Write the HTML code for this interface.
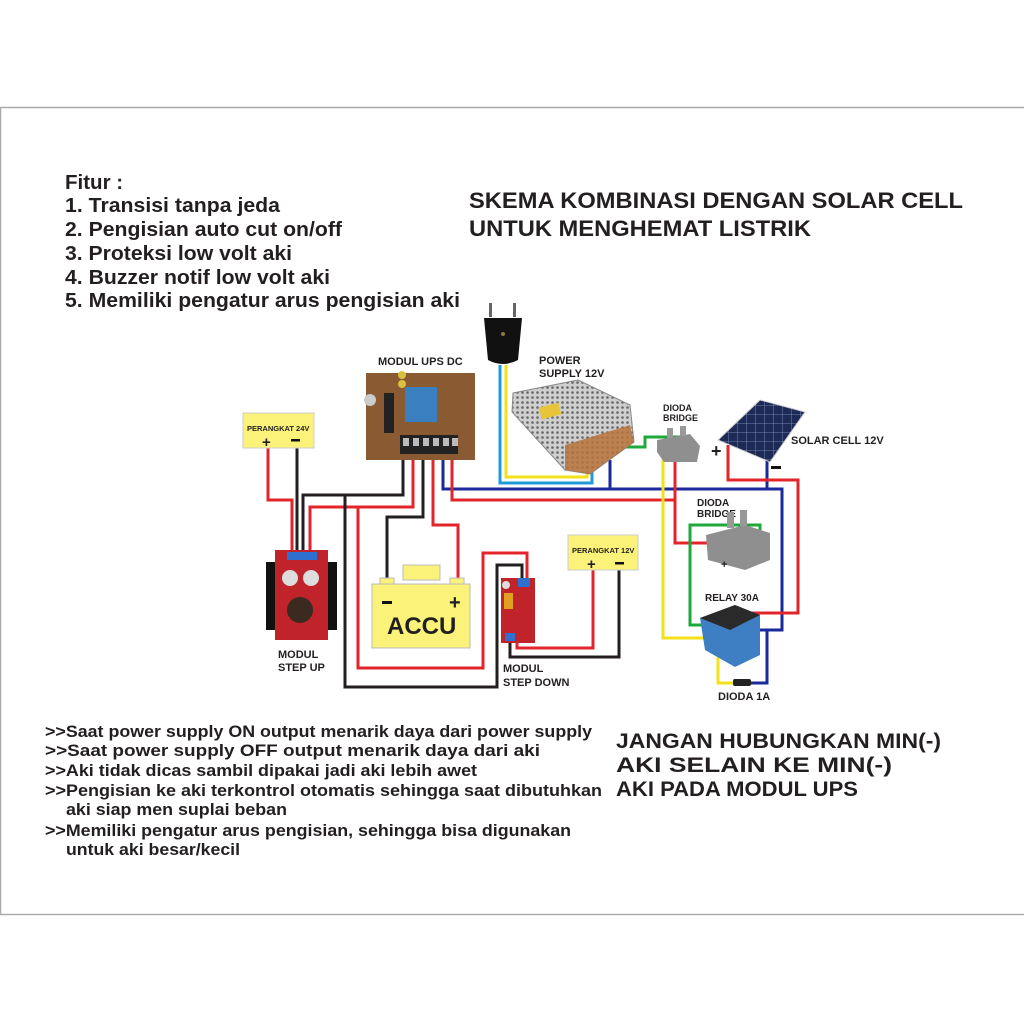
<!DOCTYPE html>
<html><head><meta charset="utf-8"><style>
html,body{margin:0;padding:0;background:#fff}
svg{display:block}
text{font-family:"Liberation Sans",sans-serif;font-weight:bold;fill:#231f20}
</style></head><body>
<svg width="1024" height="1024" viewBox="0 0 1024 1024" xmlns="http://www.w3.org/2000/svg">
<rect x="0" y="0" width="1024" height="1024" fill="#fff"/>
<rect x="0.5" y="107.5" width="1030" height="807" fill="none" stroke="#aaa" stroke-width="1.5"/>
<defs>
<pattern id="mesh" width="5" height="5" patternUnits="userSpaceOnUse"><rect width="5" height="5" fill="#cfcfcf"/><circle cx="2.5" cy="2.5" r="1.3" fill="#666"/></pattern>
<pattern id="cell" width="9" height="9" patternUnits="userSpaceOnUse"><rect width="9" height="9" fill="#1c2a55"/><path d="M0 0H9V9" fill="none" stroke="#8a9ac8" stroke-width="0.8"/></pattern>
</defs>

<g font-size="20.5">
<text x="65" y="189">Fitur :</text>
<text x="65" y="212" textLength="215" lengthAdjust="spacingAndGlyphs">1. Transisi tanpa jeda</text>
<text x="65" y="236" textLength="277" lengthAdjust="spacingAndGlyphs">2. Pengisian auto cut on/off</text>
<text x="65" y="260" textLength="227" lengthAdjust="spacingAndGlyphs">3. Proteksi low volt aki</text>
<text x="65" y="284" textLength="265" lengthAdjust="spacingAndGlyphs">4. Buzzer notif low volt aki</text>
<text x="65" y="307" textLength="395" lengthAdjust="spacingAndGlyphs">5. Memiliki pengatur arus pengisian aki</text>
</g>
<text x="469" y="208" font-size="22" fill="#333" textLength="494" lengthAdjust="spacingAndGlyphs">SKEMA KOMBINASI DENGAN SOLAR CELL</text>
<text x="469" y="236" font-size="22" fill="#333" textLength="342" lengthAdjust="spacingAndGlyphs">UNTUK MENGHEMAT LISTRIK</text>

<g font-size="17">
<text x="45" y="737" textLength="547" lengthAdjust="spacingAndGlyphs">&gt;&gt;Saat power supply ON output menarik daya dari power supply</text>
<text x="45" y="756" textLength="495" lengthAdjust="spacingAndGlyphs">&gt;&gt;Saat power supply OFF output menarik daya dari aki</text>
<text x="45" y="776" textLength="432" lengthAdjust="spacingAndGlyphs">&gt;&gt;Aki tidak dicas sambil dipakai jadi aki lebih awet</text>
<text x="45" y="796" textLength="557" lengthAdjust="spacingAndGlyphs">&gt;&gt;Pengisian ke aki terkontrol  otomatis sehingga saat dibutuhkan</text>
<text x="66" y="815" textLength="221" lengthAdjust="spacingAndGlyphs">aki siap men suplai beban</text>
<text x="45" y="836" textLength="526" lengthAdjust="spacingAndGlyphs">&gt;&gt;Memiliki pengatur arus pengisian, sehingga bisa digunakan</text>
<text x="66" y="855" textLength="174" lengthAdjust="spacingAndGlyphs">untuk aki besar/kecil</text>
</g>
<g font-size="21" fill="#333">
<text x="616" y="748" textLength="325" lengthAdjust="spacingAndGlyphs">JANGAN HUBUNGKAN MIN(-)</text>
<text x="616" y="772" textLength="276" lengthAdjust="spacingAndGlyphs">AKI SELAIN KE MIN(-)</text>
<text x="616" y="796" textLength="242" lengthAdjust="spacingAndGlyphs">AKI PADA MODUL UPS</text>
</g>

<g font-size="11">
<text x="378" y="365">MODUL UPS DC</text>
<text x="539" y="364">POWER</text>
<text x="539" y="377">SUPPLY 12V</text>
<text x="663" y="411" font-size="9">DIODA</text>
<text x="663" y="421" font-size="9">BRIDGE</text>
<text x="791" y="444">SOLAR CELL 12V</text>
<text x="697" y="506" font-size="10">DIODA</text>
<text x="697" y="517" font-size="10">BRIDGE</text>
<text x="705" y="601" font-size="10">RELAY 30A</text>
<text x="718" y="700">DIODA 1A</text>
<text x="278" y="658">MODUL</text>
<text x="278" y="671">STEP UP</text>
<text x="503" y="672">MODUL</text>
<text x="503" y="686">STEP DOWN</text>
</g>

<g fill="none" stroke-width="3" stroke-linejoin="miter">
<polyline points="500,365 500,483 592,483 592,462" stroke="#1e9ad6"/>
<polyline points="506,365 506,477 587,477 587,462" stroke="#f3e21a"/>
<polyline points="268,446 268,500 292,500 292,552" stroke="#e3242b"/>
<polyline points="297,446 297,552" stroke="#231f20"/>
<polyline points="403,455 403,495 303,495 303,552" stroke="#231f20"/>
<polyline points="413,455 413,507 310,507 310,552" stroke="#e3242b"/>
<polyline points="403,495 345,495 345,687 497,687 497,565 522,565 522,580" stroke="#231f20"/>
<polyline points="413,507 358,507 358,668 483,668 483,553 527,553 527,580" stroke="#e3242b"/>
<polyline points="423,455 423,517 387,517 387,580" stroke="#231f20"/>
<polyline points="433,455 433,525 458,525 458,580" stroke="#e3242b"/>
<polyline points="443,455 443,489 782,489 782,630 748,630" stroke="#1b2a9a"/>
<polyline points="610,460 610,489" stroke="#1b2a9a"/>
<polyline points="767,455 767,489" stroke="#1b2a9a"/>
<polyline points="452,455 452,500 675,500" stroke="#e3242b"/>
<polyline points="675,450 675,543 735,543" stroke="#e3242b"/>
<polyline points="623,447 645,447 645,437 690,437" stroke="#1fa83a"/>
<polyline points="663,440 663,638 737,638" stroke="#f3e21a"/>
<polyline points="718,638 718,683 735,683" stroke="#f3e21a"/>
<polyline points="767,630 767,683 750,683" stroke="#1b2a9a"/>
<polyline points="728,445 728,480 798,480 798,613 745,613" stroke="#e3242b"/>
<polyline points="760,535 760,525 690,525 690,625 710,625" stroke="#1fa83a"/>
<polyline points="517,640 517,648 593,648 593,566" stroke="#e3242b"/>
<polyline points="510,640 510,657 619,657 619,570" stroke="#231f20"/>
</g>

<rect x="489" y="303" width="3" height="14" fill="#666"/><rect x="513" y="303" width="3" height="14" fill="#666"/>
<path d="M484 318 H522 L518 360 Q503 368 488 360 Z" fill="#111"/>
<circle cx="503" cy="334" r="2" fill="#8a7a40"/>

<rect x="366" y="373" width="109" height="87" fill="#8a5a33"/>
<rect x="405" y="387" width="32" height="35" fill="#3a7fc0"/>
<rect x="384" y="393" width="10" height="40" fill="#222"/>
<circle cx="370" cy="400" r="6" fill="#ccc"/>
<rect x="400" y="435" width="58" height="19" fill="#222"/>
<g fill="#bbb"><rect x="403" y="438" width="6" height="8"/><rect x="413" y="438" width="6" height="8"/><rect x="423" y="438" width="6" height="8"/><rect x="433" y="438" width="6" height="8"/><rect x="443" y="438" width="6" height="8"/><rect x="452" y="438" width="6" height="8"/></g>
<circle cx="402" cy="375" r="4" fill="#d8c040"/><circle cx="402" cy="384" r="4" fill="#d8c040"/>

<polygon points="513,393 578,380 630,405 634,442 590,474 565,470 512,412" fill="url(#mesh)" stroke="#888"/>
<polygon points="565,445 630,425 634,442 590,474 565,470" fill="#b9733a" opacity="0.85"/>
<rect x="540" y="405" width="20" height="12" fill="#e8c43a" transform="rotate(-15 550 411)"/>

<rect x="243" y="413" width="71" height="35" fill="#fbf27a" stroke="#ccc"/>
<text x="247" y="431" font-size="7.5">PERANGKAT 24V</text>
<text x="262" y="447" font-size="15" fill="#e3242b">+</text>
<rect x="291" y="439" width="9" height="2.5" fill="#111"/>
<rect x="568" y="535" width="70" height="35" fill="#fbf27a" stroke="#ccc"/>
<text x="572" y="553" font-size="7.5">PERANGKAT 12V</text>
<text x="587" y="569" font-size="15" fill="#e3242b">+</text>
<rect x="615" y="562" width="9" height="2.5" fill="#111"/>

<rect x="266" y="562" width="71" height="68" fill="#111"/>
<rect x="275" y="550" width="53" height="90" fill="#c0242a"/>
<rect x="287" y="552" width="30" height="8" fill="#2f6fd0"/>
<circle cx="290" cy="578" r="8" fill="#ddd"/><circle cx="311" cy="578" r="8" fill="#ddd"/>
<circle cx="300" cy="610" r="13" fill="#3a2a20"/>

<rect x="403" y="565" width="37" height="15" fill="#fbf27a" stroke="#bbb"/>
<rect x="380" y="578" width="14" height="6" fill="#fbf27a" stroke="#bbb"/>
<rect x="450" y="578" width="14" height="6" fill="#fbf27a" stroke="#bbb"/>
<rect x="372" y="584" width="98" height="64" fill="#fbf27a" stroke="#bbb"/>
<rect x="382" y="601" width="10" height="3" fill="#111"/>
<text x="449" y="609" font-size="20" fill="#e3242b">+</text>
<text x="387" y="634" font-size="24">ACCU</text>

<rect x="501" y="578" width="34" height="65" fill="#c0242a"/>
<rect x="518" y="578" width="12" height="9" fill="#2f6fd0"/>
<rect x="505" y="633" width="10" height="8" fill="#2f6fd0"/>
<rect x="504" y="593" width="9" height="16" fill="#e0a020"/>
<circle cx="506" cy="585" r="4" fill="#ddd"/>

<polygon points="657,440 690,434 700,446 697,462 664,462 657,452" fill="#8f8f8f"/>
<rect x="667" y="428" width="6" height="10" fill="#999"/><rect x="680" y="426" width="6" height="10" fill="#999"/>
<polygon points="718,440 760,400 805,412 770,462" fill="url(#cell)" stroke="#ccc"/>
<text x="711" y="457" font-size="18" fill="#e3242b">+</text>
<rect x="771" y="466" width="10" height="3" fill="#111"/>
<polygon points="706,535 745,525 770,533 770,560 745,570 708,560" fill="#8f8f8f"/>
<rect x="727" y="512" width="7" height="16" fill="#999"/><rect x="740" y="510" width="7" height="16" fill="#999"/>
<text x="721" y="568" font-size="11" fill="#e3242b">+</text>
<polygon points="700,618 735,605 760,615 760,655 735,667 705,650" fill="#3e7fc4"/>
<polygon points="700,618 735,605 760,615 730,630" fill="#2a2a2a"/>
<rect x="733" y="679" width="18" height="7" rx="2" fill="#222"/>
</svg>
</body></html>
